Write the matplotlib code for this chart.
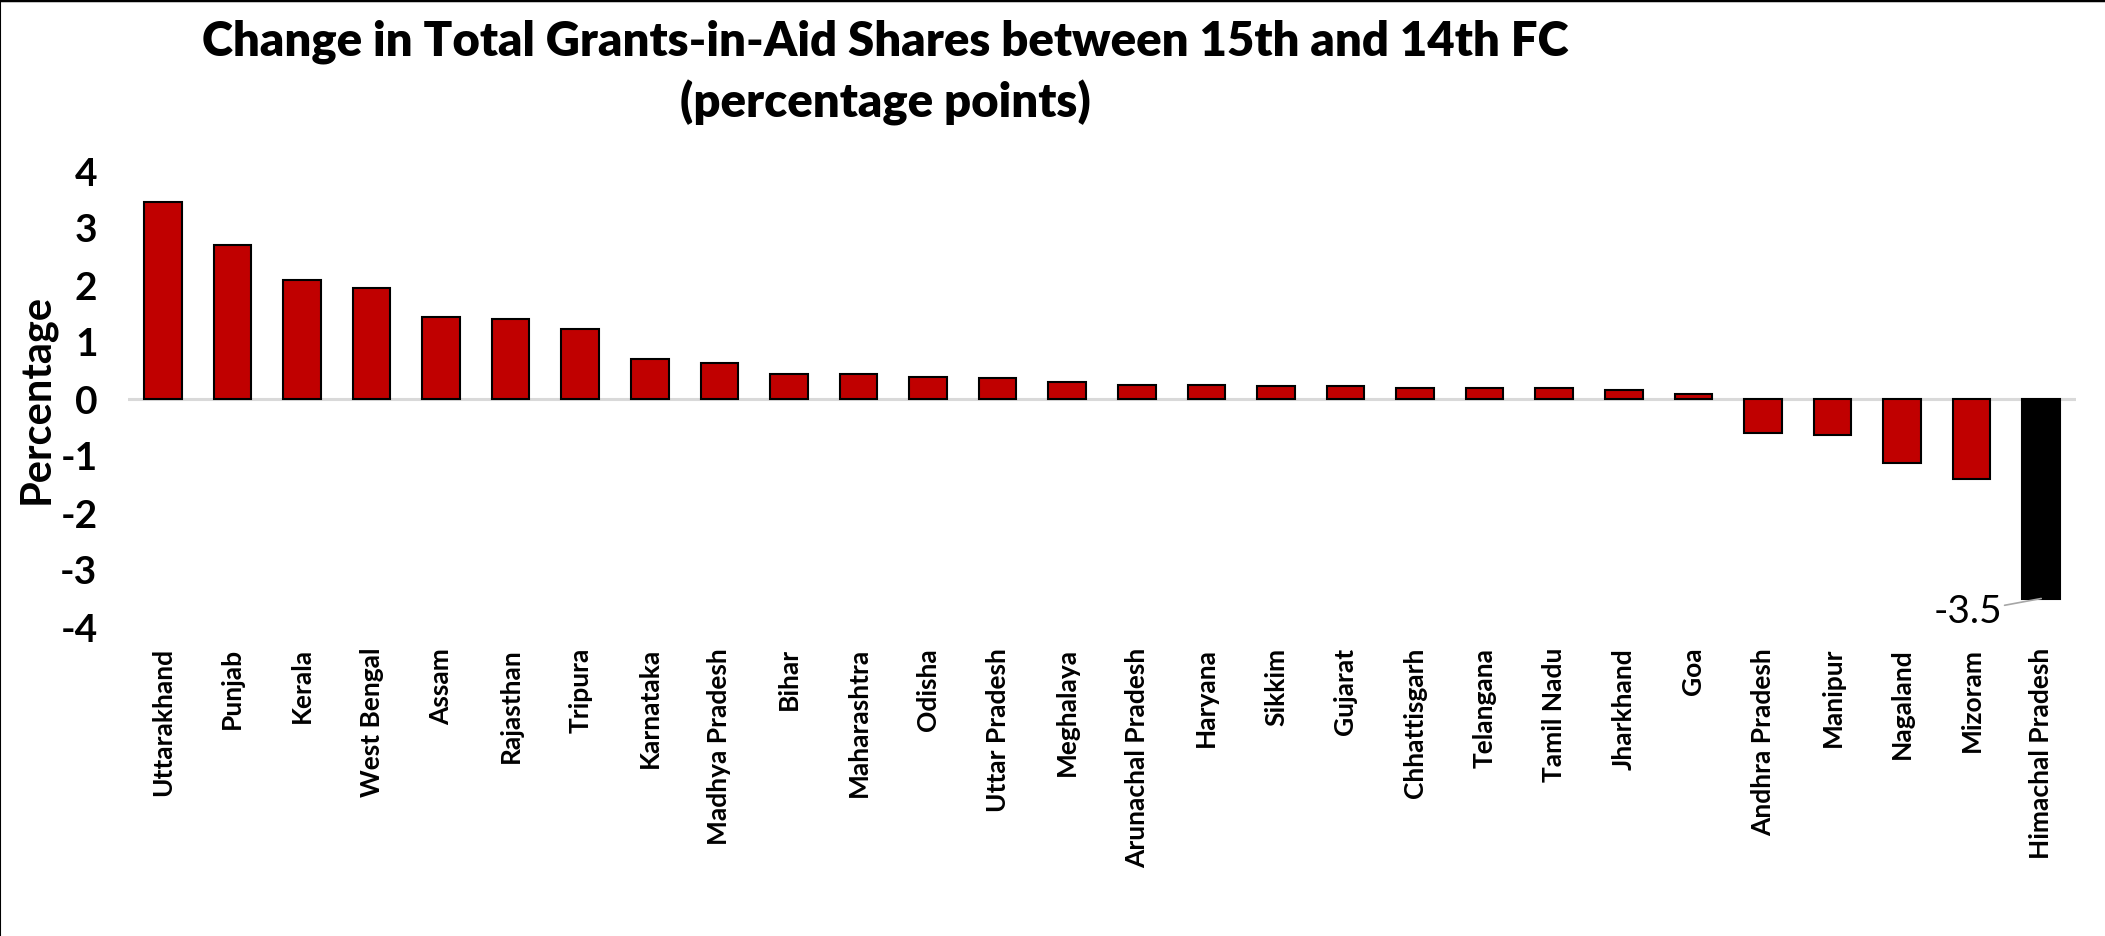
import matplotlib.pyplot as plt
from matplotlib.lines import Line2D

states = ['Uttarakhand', 'Punjab', 'Kerala', 'West Bengal', 'Assam', 'Rajasthan',
          'Tripura', 'Karnataka', 'Madhya Pradesh', 'Bihar', 'Maharashtra', 'Odisha',
          'Uttar Pradesh', 'Meghalaya', 'Arunachal Pradesh', 'Haryana', 'Sikkim',
          'Gujarat', 'Chhattisgarh', 'Telangana', 'Tamil Nadu', 'Jharkhand', 'Goa',
          'Andhra Pradesh', 'Manipur', 'Nagaland', 'Mizoram', 'Himachal Pradesh']
change = [3.45, 2.71, 2.08, 1.94, 1.44, 1.40, 1.23, 0.71, 0.63, 0.43, 0.43, 0.39,
          0.36, 0.29, 0.25, 0.25, 0.22, 0.22, 0.19, 0.19, 0.19, 0.15, 0.08,
          -0.60, -0.64, -1.13, -1.40, -3.5]
yticks = [-4, -3, -2, -1, 0, 1, 2, 3, 4]

plt.rcParams['font.family'] = ['Lato', 'DejaVu Sans']
plt.rcParams['font.weight'] = 'bold'

W, H = 2105, 936
fig = plt.figure(figsize=(W / 100, H / 100), dpi=100)
ax = fig.add_axes([128 / W, 1 - 627 / H, (2076 - 128) / W, 456 / H])

colors = ['#C00000'] * (len(change) - 1) + ['black']
x = range(len(change))
ax.axhline(0, color='#d9d9d9', lw=2.2, zorder=1)
ax.bar(x, change, width=0.54, color=colors, edgecolor='black', linewidth=1.5, zorder=2)

ax.set_xlim(-0.5, len(change) - 0.5)
ax.set_ylim(-4, 4)
ax.set_yticks(yticks)
ax.set_yticklabels([str(t) for t in yticks], fontsize=28, fontweight='bold')
ax.set_xticks(list(x))
ax.set_xticklabels(states, rotation=90, fontsize=19, fontweight='bold', va='top')
ax.tick_params(axis='y', length=0, pad=22)
ax.tick_params(axis='x', length=0, pad=15)
for s in ax.spines.values():
    s.set_visible(False)

ax.set_ylabel('Percentage', fontsize=30, fontweight='bold')
ax.yaxis.set_label_coords((56 - 128) / (2076 - 128), 0.5)

# data label for the last bar
ax.annotate('-3.5', xy=(len(change) - 1, change[-1]), xytext=(25.94, -3.74),
            ha='center', va='center', fontsize=28, fontweight='normal',
            arrowprops=dict(arrowstyle='-', color='#a6a6a6', lw=1.2,
                            shrinkA=27, shrinkB=0))

fig.text(885 / W, 1 - 42 / H, 'Change in Total Grants-in-Aid Shares between 15th and 14th FC',
         ha='center', va='center', fontsize=34, fontweight='heavy')
fig.text(885 / W, 1 - 103 / H, '(percentage points)',
         ha='center', va='center', fontsize=34, fontweight='heavy')

fig.add_artist(Line2D([0, 1], [1, 1], transform=fig.transFigure, color='black', lw=2.5))
fig.add_artist(Line2D([0, 0], [0, 1], transform=fig.transFigure, color='black', lw=1.5))

fig.savefig('out.png', dpi=100)
